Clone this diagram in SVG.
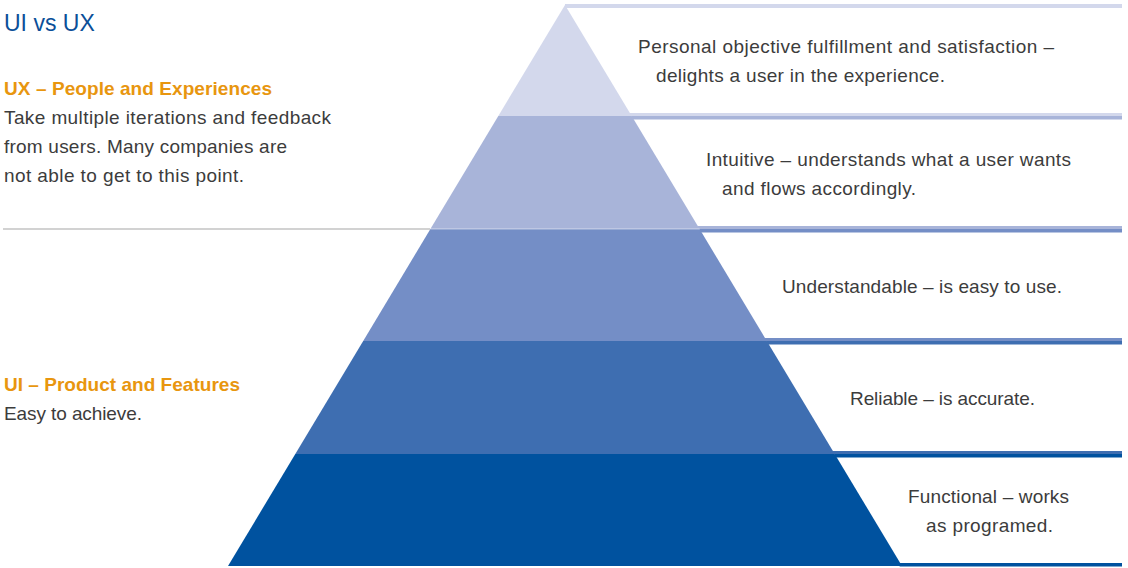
<svg xmlns="http://www.w3.org/2000/svg" width="1128" height="568" viewBox="0 0 1128 568">
<style>
text{font-family:"Liberation Sans",Arial,sans-serif}
.title{font-size:23px;fill:#0b4f98}
.head{font-size:19px;font-weight:bold;fill:#e8960f}
.body{font-size:19px;fill:#3c3c3c}
.lbl{font-size:19px;fill:#3c3c3c}
.c1{fill:#d3d8ec}.c2{fill:#a8b4d9}.c3{fill:#748ec6}.c4{fill:#3e6eb1}.c5{fill:#00529f}
</style>
<rect width="1128" height="568" fill="#ffffff"/>
<g id="title"><text class="title" x="4" y="31">UI vs UX</text></g>
<g id="ux-note">
<text class="head" x="4" y="95" textLength="268">UX – People and Experiences</text>
<text class="body" x="4" y="124" textLength="327">Take multiple iterations and feedback</text>
<text class="body" x="4" y="153" textLength="283">from users. Many companies are</text>
<text class="body" x="4" y="182" textLength="240">not able to get to this point.</text>
</g>
<g id="ui-note">
<text class="head" x="4" y="391" textLength="236">UI – Product and Features</text>
<text class="body" x="4" y="420" textLength="138">Easy to achieve.</text>
</g>
<g id="divider"><line x1="3" y1="229" x2="430" y2="229" stroke="#d2d2d2" stroke-width="2"/></g>
<g id="tier-1">
<rect class="c1" x="565" y="4" width="557" height="4"/>
<polygon class="c1" points="565,5 631.7,116 498.3,116"/>
<rect class="c1" x="629.9" y="113" width="492.1" height="3"/>
<text class="lbl" x="638" y="53" textLength="416">Personal objective fulfillment and satisfaction –</text>
<text class="lbl" x="656" y="82" textLength="289">delights a user in the experience.</text>
</g>
<g id="tier-2">
<polygon class="c2" points="498.3,116 631.7,116 699.6,229 430.4,229"/>
<rect class="c2" x="631.7" y="116" width="490.3" height="3.5"/>
<rect class="c2" x="697.8" y="226" width="424.2" height="3"/>
<text class="lbl" x="706" y="166" textLength="365">Intuitive – understands what a user wants</text>
<text class="lbl" x="722" y="195" textLength="194">and flows accordingly.</text>
</g>
<g id="tier-3">
<polygon class="c3" points="430.4,229 699.6,229 766.8,341 363.2,341"/>
<rect class="c3" x="699.6" y="229" width="422.4" height="3.5"/>
<rect class="c3" x="765" y="338" width="357" height="3"/>
<text class="lbl" x="782" y="293" textLength="280">Understandable – is easy to use.</text>
</g>
<g id="tier-4">
<polygon class="c4" points="363.2,341 766.8,341 834.7,454 295.3,454"/>
<rect class="c4" x="766.8" y="341" width="355.2" height="3.5"/>
<rect class="c4" x="832.9" y="451" width="289.1" height="3"/>
<text class="lbl" x="850" y="405" textLength="185">Reliable – is accurate.</text>
</g>
<g id="tier-5">
<polygon class="c5" points="295.3,454 834.7,454 902,566 228,566"/>
<rect class="c5" x="834.7" y="454" width="287.3" height="3.5"/>
<rect class="c5" x="899.6" y="563" width="222.4" height="3.5"/>
<text class="lbl" x="908" y="503" textLength="161">Functional – works</text>
<text class="lbl" x="926" y="532" textLength="127">as programed.</text>
</g>
<g id="connectors"><line x1="430.4" y1="229" x2="699.6" y2="229" stroke="#ffffff" stroke-opacity="0.35" stroke-width="1.5"/></g>
</svg>
